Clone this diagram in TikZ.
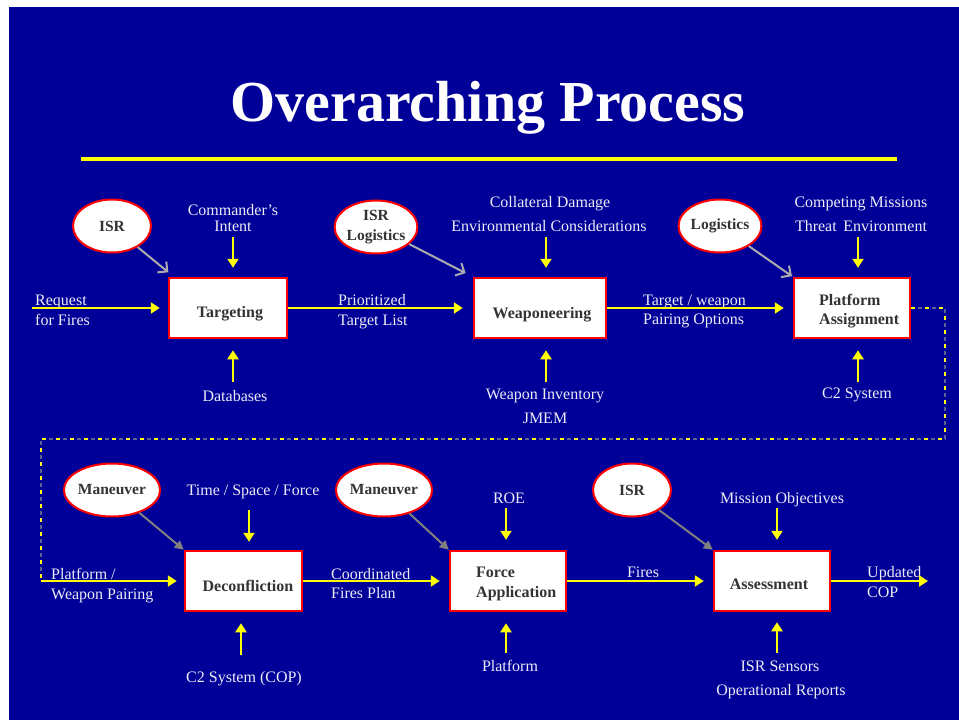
\documentclass[tikz,border=0pt]{standalone}
\usepackage{fontspec}
\setmainfont{Liberation Serif}
\usetikzlibrary{shapes.geometric,arrows.meta}

\definecolor{slide}{RGB}{0,0,153}
\definecolor{lbltxt}{RGB}{236,236,245}
\definecolor{boxtxt}{RGB}{51,51,51}
\definecolor{hiyel}{RGB}{255,255,0}
\definecolor{dashgrey}{RGB}{95,95,150}

\tikzset{
  lbl/.style={text=lbltxt, inner sep=0pt, anchor=base, font=\fontsize{16}{19}\selectfont},
  lbll/.style={lbl, anchor=base west},
  stage/.style={draw=red, line width=2.5pt, fill=white, minimum height=60pt, inner sep=0pt},
  stagetxt/.style={text=boxtxt, inner sep=0pt, anchor=base, font=\fontsize{16}{19}\selectfont\bfseries},
  stagetxtl/.style={stagetxt, anchor=base west},
  source/.style={ellipse, draw=red, line width=2pt, fill=white, minimum width=78pt,
    minimum height=53pt, inner sep=0pt, text=boxtxt, align=center,
    font=\fontsize{15.5}{20}\selectfont\bfseries},
  feed/.style={draw=hiyel, line width=2.2pt, -{Triangle[length=9pt,width=11pt]}},
  cue/.style={draw=gray!65, line width=2pt, -{Straight Barb[length=7pt,width=14pt]}},
  cuedark/.style={draw=gray, line width=2pt, -{Triangle[length=9pt,width=9pt]}},
  loopgrey/.style={draw=dashgrey, line width=1.2pt, dash pattern=on 4pt off 10pt, dash phase=7pt},
  loopyel/.style={draw=hiyel, line width=1.2pt, dash pattern=on 4pt off 10pt},
}

\begin{document}
\begin{tikzpicture}[x=1pt,y=-1pt]
  \useasboundingbox (0,0) rectangle (959,721);
  \fill[white] (0,0) rectangle (959,721);
  \fill[slide] (9,7) rectangle (959,720);

  % heading and rule
  \node[text=white, inner sep=0pt, anchor=base, font=\fontsize{58}{60}\selectfont\bfseries]
    (title) at (488,121) {Overarching Process};
  \coordinate (ruleL) at (81,158.5);
  \coordinate (ruleR) at (897,158.5);
  \draw[hiyel, line width=4pt] (ruleL) -- (ruleR);

  % ---------- upper row ----------
  \node[stage, minimum width=118pt] (tgt)  at (228,308) {};
  \node[stage, minimum width=132pt] (wpn)  at (540,308) {};
  \node[stage, minimum width=116pt] (plat) at (852,308) {};
  \node[stagetxt] (tgtT) at (230,317) {Targeting};
  \node[stagetxt] (wpnT) at (542,318) {Weaponeering};
  \node[stagetxtl] (platA) at (819,305) {Platform};
  \node[stagetxtl] (platB) at (819,324) {Assignment};

  \node[source] (isr1)   at (112,226) {ISR};
  \node[source] (isrlog) at (376,227) {ISR\\Logistics};
  \node[source] (logi)   at (720,226) {Logistics};

  \node[lbl] (cmdA) at (233,215.5) {Commander’s};
  \node[lbl] (cmdB) at (233,231.5) {Intent};
  \node[lbll] (rffA) at (35,305) {Request};
  \node[lbll] (rffB) at (35,325) {for Fires};
  \node[lbl] (db) at (235,401) {Databases};
  \node[lbl] (cdA) at (550,207) {Collateral Damage};
  \node[lbl] (cdB) at (549,231) {Environmental Considerations};
  \node[lbll] (ptA) at (338,305) {Prioritized};
  \node[lbll] (ptB) at (338,325) {Target List};
  \node[lbl] (wiA) at (545,399) {Weapon Inventory};
  \node[lbl] (wiB) at (545,423) {JMEM};
  \node[lbll] (twA) at (643,305) {Target / weapon};
  \node[lbll] (twB) at (643,324) {Pairing Options};
  \node[lbl] (cmA) at (861,207) {Competing Missions};
  \node[lbl] (cmB) at (861,231) {Threat\, Environment};
  \node[lbl] (c2) at (857,398) {C2 System};

  \coordinate (rff) at (32,308);
  \draw[feed, shorten >=8pt] (rff) -- (tgt.west);
  \draw[feed, shorten >=10pt] (tgt.east) -- (wpn.west);
  \draw[feed, shorten >=9pt] (wpn.east) -- (plat.west);

  \draw[feed, shorten <=5.5pt, shorten >=9pt] (cmdB.base) -- (cmdB.base |- tgt.north);
  \draw[feed, shorten >=11pt] ([xshift=-2pt,yshift=19pt]db.base) -- ([xshift=-2pt]db.base |- tgt.south);
  \draw[feed, shorten <=6pt, shorten >=9pt] ([xshift=-3pt]cdB.base) -- ([xshift=-3pt]cdB.base |- wpn.north);
  \draw[feed, shorten >=11pt] ([xshift=1pt,yshift=17pt]wiA.base) -- ([xshift=1pt]wiA.base |- wpn.south);
  \draw[feed, shorten <=6pt, shorten >=9pt] ([xshift=-3pt]cmB.base) -- ([xshift=-3pt]cmB.base |- plat.north);
  \draw[feed, shorten >=11pt] ([xshift=1pt,yshift=16pt]c2.base) -- ([xshift=1pt]c2.base |- plat.south);

  \draw[cue, shorten >=7pt] (isr1) -- ([xshift=6pt]tgt.north west);
  \draw[cue, shorten >=8pt] (isrlog) -- (wpn.north west);
  \draw[cue, shorten >=1pt] (logi) -- (plat.north west);

  % ---------- hand-over between the rows ----------
  \coordinate (d1) at (945,308);
  \coordinate (d2) at (945,439);
  \coordinate (d3) at (41,439);
  \coordinate (pwp) at (41,581);
  \draw[loopgrey] (plat.east) -- (d1) -- (d2) -- (d3) -- (pwp);
  \draw[loopyel] (plat.east) -- (d1) -- (d2) -- (d3) -- (pwp);

  % ---------- lower row ----------
  \node[stage, minimum width=117pt] (dec) at (243.5,581) {};
  \node[stage, minimum width=116pt] (frc) at (508,581) {};
  \node[stage, minimum width=116pt] (asm) at (772,581) {};
  \node[stagetxt] (decT) at (248,591) {Deconfliction};
  \node[stagetxtl] (frcA) at (476,577) {Force};
  \node[stagetxtl] (frcB) at (476,597) {Application};
  \node[stagetxt] (asmT) at (769,589) {Assessment};

  \node[source] (man1) at (112,490) {Maneuver};
  \node[source] (man2) at (384,490) {Maneuver};
  \node[source] (isr2) at (632,490) {ISR};

  \node[lbl] (tsf) at (253,495) {Time / Space / Force};
  \node[lbll] (pwA) at (51,579) {Platform /};
  \node[lbll] (pwB) at (51,599) {Weapon Pairing};
  \node[lbl] (c2cop) at (244,682) {C2 System (COP)};
  \node[lbll] (cfA) at (331,579) {Coordinated};
  \node[lbll] (cfB) at (331,598) {Fires Plan};
  \node[lbl] (roe) at (509,503) {ROE};
  \node[lbl] (plf) at (510,671) {Platform};
  \node[lbl] (fires) at (643,577) {Fires};
  \node[lbl] (mo) at (782,503) {Mission Objectives};
  \node[lbll] (ucA) at (867,577) {Updated};
  \node[lbll] (ucB) at (867,597) {COP};
  \node[lbl] (isA) at (780,671) {ISR Sensors};
  \node[lbl] (isB) at (781,695) {Operational Reports};

  \coordinate (cop) at (928,581);
  \draw[feed, shorten >=7pt] (pwp) -- (dec.west);
  \draw[feed, shorten >=9pt] (dec.east) -- (frc.west);
  \draw[feed, shorten >=9pt] (frc.east) -- (asm.west);
  \draw[feed] (asm.east) -- (cop);

  \draw[feed, shorten <=15pt, shorten >=8pt] ([xshift=-4pt]tsf.base) -- ([xshift=-4pt]tsf.base |- dec.north);
  \draw[feed, shorten >=11pt] ([xshift=-3pt,yshift=27pt]c2cop.base) -- ([xshift=-3pt]c2cop.base |- dec.south);
  \draw[feed, shorten <=5pt, shorten >=10pt] ([xshift=-3pt]roe.base) -- ([xshift=-3pt]roe.base |- frc.north);
  \draw[feed, shorten >=11pt] ([xshift=-4pt,yshift=18pt]plf.base) -- ([xshift=-4pt]plf.base |- frc.south);
  \draw[feed, shorten <=5pt, shorten >=10pt] ([xshift=-5pt]mo.base) -- ([xshift=-5pt]mo.base |- asm.north);
  \draw[feed, shorten >=10pt] ([xshift=-3pt,yshift=18pt]isA.base) -- ([xshift=-3pt]isA.base |- asm.south);

  \draw[cuedark] (man1) -- (dec.north west);
  \draw[cuedark] (man2) -- (frc.north west);
  \draw[cuedark] (isr2) -- (asm.north west);
\end{tikzpicture}
\end{document}
